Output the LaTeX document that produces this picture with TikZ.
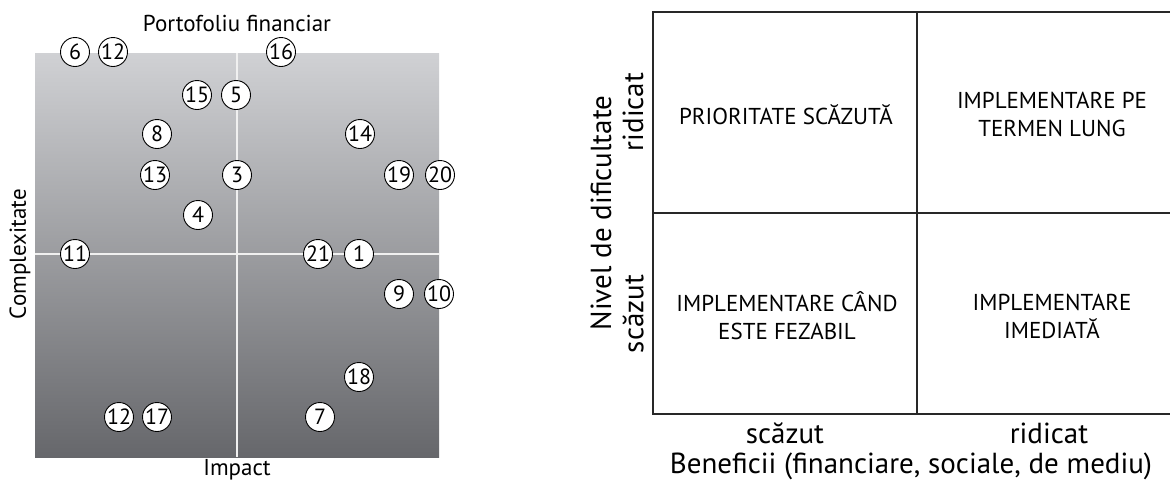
\documentclass[tikz,border=0pt]{standalone}
\usepackage{fontspec}
\setmainfont{PT Sans}
\definecolor{boxtop}{RGB}{208,209,212}
\definecolor{boxbottom}{RGB}{102,103,107}
\definecolor{gridline}{RGB}{40,40,40}
\begin{document}
\begin{tikzpicture}[x=1pt, y=-1pt,
  item/.style={shape=circle, draw=black, fill=white, line width=0.9pt, minimum size=29pt, inner sep=0pt, font=\fontsize{22}{22}\selectfont},
  axis/.style={inner sep=0pt, font=\fontsize{23}{23}\selectfont},
  bigtext/.style={inner sep=0pt, font=\fontsize{29}{29}\selectfont},
  cell/.style={align=center, font=\fontsize{23}{28}\selectfont},
  cross/.style={draw=white!88!gray, line width=2pt},
  frame/.style={draw=gridline, line width=1.3pt}]
\useasboundingbox (0,0) rectangle (1170,480);
% portofoliu financiar
\shade[top color=boxtop, bottom color=boxbottom] (35,53) rectangle (439,457);
\coordinate (P-top) at (237,53);
\coordinate (P-bottom) at (237,457);
\coordinate (P-left) at (35,254);
\coordinate (P-right) at (439,254);
\path[cross] (P-top) -- (P-bottom);
\path[cross] (P-left) -- (P-right);
\node[axis, anchor=base] (portofoliu) at (237,31) {Portofoliu financiar};
\node[axis, anchor=base] (impact) at (237,475) {Impact};
\node[axis, rotate=90] (complexitate) at (20,254) {Complexitate};
\node[item] (c6) at (75,52) {6};
\node[item] (c12a) at (113,52) {12};
\node[item] (c16) at (281,52) {16};
\node[item] (c15) at (197,95) {15};
\node[item] (c5) at (236,95) {5};
\node[item] (c8) at (157,134) {8};
\node[item] (c14) at (360,134) {14};
\node[item] (c13) at (155,175) {13};
\node[item] (c3) at (237,175) {3};
\node[item] (c19) at (399,175) {19};
\node[item] (c20) at (440,175) {20};
\node[item] (c4) at (198,215) {4};
\node[item] (c11) at (75,254) {11};
\node[item] (c21) at (318,254) {21};
\node[item] (c1) at (359,254) {1};
\node[item] (c9) at (399,294) {9};
\node[item] (c10) at (439,294) {10};
\node[item] (c18) at (359,377) {18};
\node[item] (c12b) at (119,417) {12};
\node[item] (c17) at (157,417) {17};
\node[item] (c7) at (320,417) {7};
% matrice
\coordinate (M-tl) at (653,12);
\coordinate (M-tr) at (1170,12);
\coordinate (M-bl) at (653,414);
\coordinate (M-br) at (1170,414);
\coordinate (M-ml) at (653,213);
\coordinate (M-mr) at (1170,213);
\coordinate (M-mt) at (917,12);
\coordinate (M-mb) at (917,414);
\path[frame] (M-tr) -- (M-tl) -- (M-bl) -- (M-br);
\path[frame] (M-ml) -- (M-mr);
\path[frame] (M-mt) -- (M-mb);
\node[cell] (prioritate) at (786,115) {PRIORITATE SCĂZUTĂ};
\node[cell] (termen) at (1052,114) {IMPLEMENTARE PE\\TERMEN LUNG};
\node[cell] (fezabil) at (787,316) {IMPLEMENTARE CÂND\\ESTE FEZABIL};
\node[cell] (imediat) at (1052,316) {IMPLEMENTARE\\IMEDIATĂ};
\node[bigtext, rotate=90] (nivel) at (601,213) {Nivel de dificultate};
\node[bigtext, rotate=90] (ridicatY) at (633,112) {ridicat};
\node[bigtext, rotate=90] (scazutY) at (633,314) {scăzut};
\node[bigtext, anchor=base] (scazutX) at (785,443) {scăzut};
\node[bigtext, anchor=base] (ridicatX) at (1049,443) {ridicat};
\node[bigtext, anchor=base] (beneficii) at (911,473) {Beneficii (financiare, sociale, de mediu)};
\end{tikzpicture}
\end{document}
